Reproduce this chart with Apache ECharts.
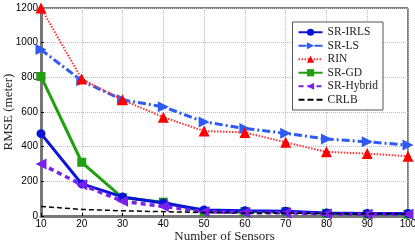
<!DOCTYPE html>
<html><head><meta charset="utf-8">
<script src="https://cdn.jsdelivr.net/npm/echarts@6/dist/echarts.min.js"></script>
<style>html,body{margin:0;padding:0;background:#fff}#c{width:415px;height:243px}</style>
</head><body><div id="c"></div>
<script>
const sensors = [10,20,30,40,50,60,70,80,90,100];
const srIRLS = [475,185,110,75,35,30,28,18,15,15];
const srLS = [960,780,670,630,543,505,477,444,428,409];
const rin = [1200,790,670,570,490,482,425,370,360,345];
const srGD = [805,310,105,80,25,25,25,15,10,10];
const srHybrid = [300,180,85,55,25,20,18,12,10,10];
const crlb = [55,38,30,25,20,18,16,14,13,12];
const yTicks = [0,200,400,600,800,1000,1200];

const pair = a => sensors.map((x,i)=>[x,a[i]]);
const chart = echarts.init(document.getElementById('c'));
const serif = 'Liberation Serif';
chart.setOption({
  animation:false,
  grid:{left:41,right:7,top:8,bottom:27,show:true,borderColor:'#000',borderWidth:1,
    containLabel:false,outerBoundsMode:'none'},
  xAxis:{type:'value',min:10,max:100,interval:10,
    name:'Number of Sensors',nameLocation:'middle',nameGap:14,nameMoveOverlap:false,
    nameTextStyle:{fontFamily:serif,fontSize:13,color:'#222'},
    axisLine:{lineStyle:{color:'#777',width:3}},
    axisTick:{inside:true,length:3,lineStyle:{color:'#000'}},
    axisLabel:{fontFamily:'Liberation Sans',fontSize:10,color:'#000',margin:3,hideOverlap:false,showMinLabel:true,showMaxLabel:true},
    splitLine:{show:true,lineStyle:{type:'dotted',color:'#bbb'}}},
  yAxis:{type:'value',min:0,max:1200,interval:200,
    name:'RMSE (meter)',nameLocation:'middle',nameGap:26,nameMoveOverlap:false,
    nameTextStyle:{fontFamily:serif,fontSize:13,color:'#222'},
    axisLine:{lineStyle:{color:'#777',width:3}},
    axisTick:{inside:true,length:3,lineStyle:{color:'#000'}},
    axisLabel:{fontFamily:'Liberation Sans',fontSize:10,color:'#000',margin:3,hideOverlap:false,showMinLabel:true,showMaxLabel:true,
      formatter:v=>yTicks.includes(v)?String(v):''},
    splitLine:{show:true,lineStyle:{type:'dotted',color:'#bbb'}}},
  legend:{orient:'vertical',right:32,top:22,itemWidth:24,itemHeight:9,itemGap:1,
    padding:[4,5,4,5],borderColor:'#555',borderWidth:1,backgroundColor:'#fff',
    textStyle:{fontFamily:serif,fontSize:11.5,color:'#222',lineHeight:12.5},
    data:['SR-IRLS','SR-LS','RIN','SR-GD','SR-Hybrid',
      {name:'CRLB',icon:'path://M0,4h6v2h-6z M9,4h6v2h-6z M18,4h6v2h-6z'}]},
  series:[
    {name:'SR-IRLS',type:'line',data:pair(srIRLS),symbol:'circle',symbolSize:9,
      lineStyle:{color:'#0a14d8',width:3},itemStyle:{color:'#0a14d8'},z:5},
    {name:'SR-LS',type:'line',data:pair(srLS),symbol:'triangle',symbolRotate:-90,symbolSize:11,
      lineStyle:{color:'#2f5af5',width:3,type:[8,3,2,3]},itemStyle:{color:'#2f5af5'},z:3},
    {name:'RIN',type:'line',data:pair(rin),symbol:'triangle',symbolSize:11,
      lineStyle:{color:'#ff3030',width:2,type:[1.5,1.5]},itemStyle:{color:'#ff0000'},z:4},
    {name:'SR-GD',type:'line',data:pair(srGD),symbol:'rect',symbolSize:9,
      lineStyle:{color:'#20a010',width:3},itemStyle:{color:'#20a010'},z:4},
    {name:'SR-Hybrid',type:'line',data:pair(srHybrid),symbol:'triangle',symbolRotate:90,symbolSize:11,
      lineStyle:{color:'#7a20ee',width:3.5,type:[5,4]},itemStyle:{color:'#7a20ee'},z:6},
    {name:'CRLB',type:'line',data:pair(crlb),symbol:'none',
      lineStyle:{color:'#000',width:1.5,type:[5,3]},itemStyle:{color:'#000'},z:7}
  ]
});
</script></body></html>
